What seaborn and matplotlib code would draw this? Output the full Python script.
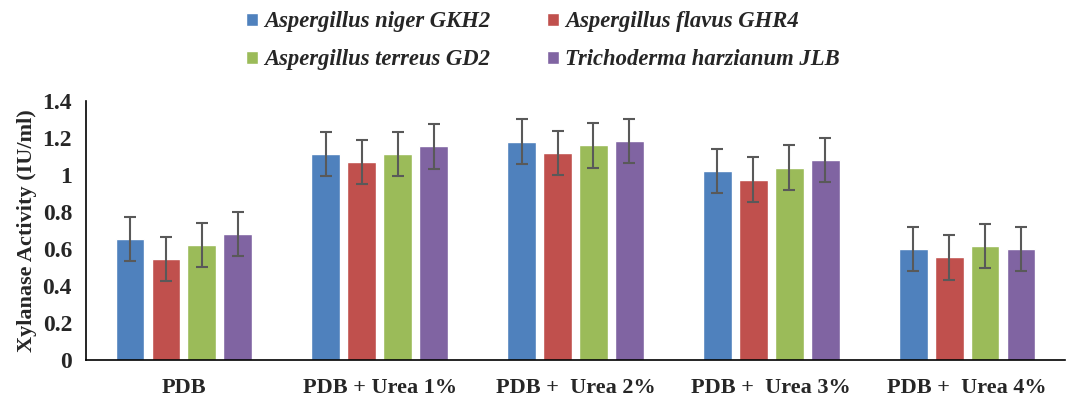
import seaborn as sns
import matplotlib.pyplot as plt
import numpy as np
import pandas as pd

media = ['PDB', 'PDB + Urea 1%', 'PDB +  Urea 2%', 'PDB +  Urea 3%', 'PDB +  Urea 4%']
strains = ['Aspergillus niger GKH2', 'Aspergillus flavus GHR4',
           'Aspergillus terreus GD2', 'Trichoderma harzianum JLB']
niger = [0.655, 1.115, 1.18, 1.02, 0.60]
flavus = [0.545, 1.07, 1.12, 0.975, 0.555]
terreus = [0.62, 1.115, 1.16, 1.04, 0.615]
harzianum = [0.68, 1.155, 1.185, 1.08, 0.60]
err = [0.12, 0.12, 0.12, 0.12, 0.12]
palette = ['#4F81BD', '#C0504D', '#9BBB59', '#8064A2']

rows = []
for s, vals in zip(strains, [niger, flavus, terreus, harzianum]):
    for m, v, e in zip(media, vals, err):
        rows.append({'medium': m, 'strain': s, 'activity': v, 'err': e})
df = pd.DataFrame(rows)

sns.set_style('white')
plt.rcParams['font.family'] = ['Liberation Serif', 'DejaVu Serif']

fig = plt.figure(figsize=(10.71, 3.97), dpi=100)
ax = fig.add_axes([0.0803, 0.0932, 0.9141, 0.6524])

sns.barplot(data=df, x='medium', y='activity', hue='strain', order=media,
            hue_order=strains, palette=palette, width=0.735, gap=0.2,
            errorbar=None, saturation=1, ax=ax)

# error bars at bar centres
for bars, s in zip(ax.containers, strains):
    sub = df[df.strain == s].set_index('medium').loc[media]
    xs = [b.get_x() + b.get_width() / 2 for b in bars]
    ax.errorbar(xs, sub.activity.values, yerr=sub.err.values, fmt='none',
                ecolor='#595959', elinewidth=1.5, capsize=4.3, capthick=1.5)

ax.set_xlim(-0.5, 4.5)
ax.set_ylim(0, 1.4)
ax.set_yticks(np.arange(0, 1.41, 0.2))
ax.set_yticklabels(['0', '0.2', '0.4', '0.6', '0.8', '1', '1.2', '1.4'],
                   fontsize=17, fontweight='bold')
ax.set_xticks(range(len(media)))
ax.set_xticklabels(media, fontsize=16, fontweight='bold')
ax.set_xticks(np.arange(0.5, 4.6, 1), minor=True)
ax.tick_params(axis='x', which='major', length=0, pad=13)
ax.tick_params(axis='x', which='minor', length=6, width=1.2, direction='out', color='black')
ax.tick_params(axis='y', length=5, width=1.2, direction='out', color='black', pad=5)
ax.set_xlabel('')
ax.set_ylabel('Xylanase Activity (IU/ml)', fontsize=16, fontweight='bold', labelpad=4)

for side in ['top', 'right']:
    ax.spines[side].set_visible(False)
for side in ['left', 'bottom']:
    ax.spines[side].set_color('black')
    ax.spines[side].set_linewidth(1.2)

# legend filled row by row like the original
handles, labels = ax.get_legend_handles_labels()
order = [0, 2, 1, 3]
ax.legend([handles[i] for i in order], [labels[i] for i in order],
          loc='upper center', bbox_to_anchor=(0.467, 1.39), ncol=2, frameon=False,
          prop={'size': 16.3, 'weight': 'bold', 'style': 'italic'},
          handlelength=0.53, handleheight=0.53, handletextpad=0.27,
          columnspacing=2.5, labelspacing=0.75, borderpad=0)

fig.savefig('out.png', dpi=100)
